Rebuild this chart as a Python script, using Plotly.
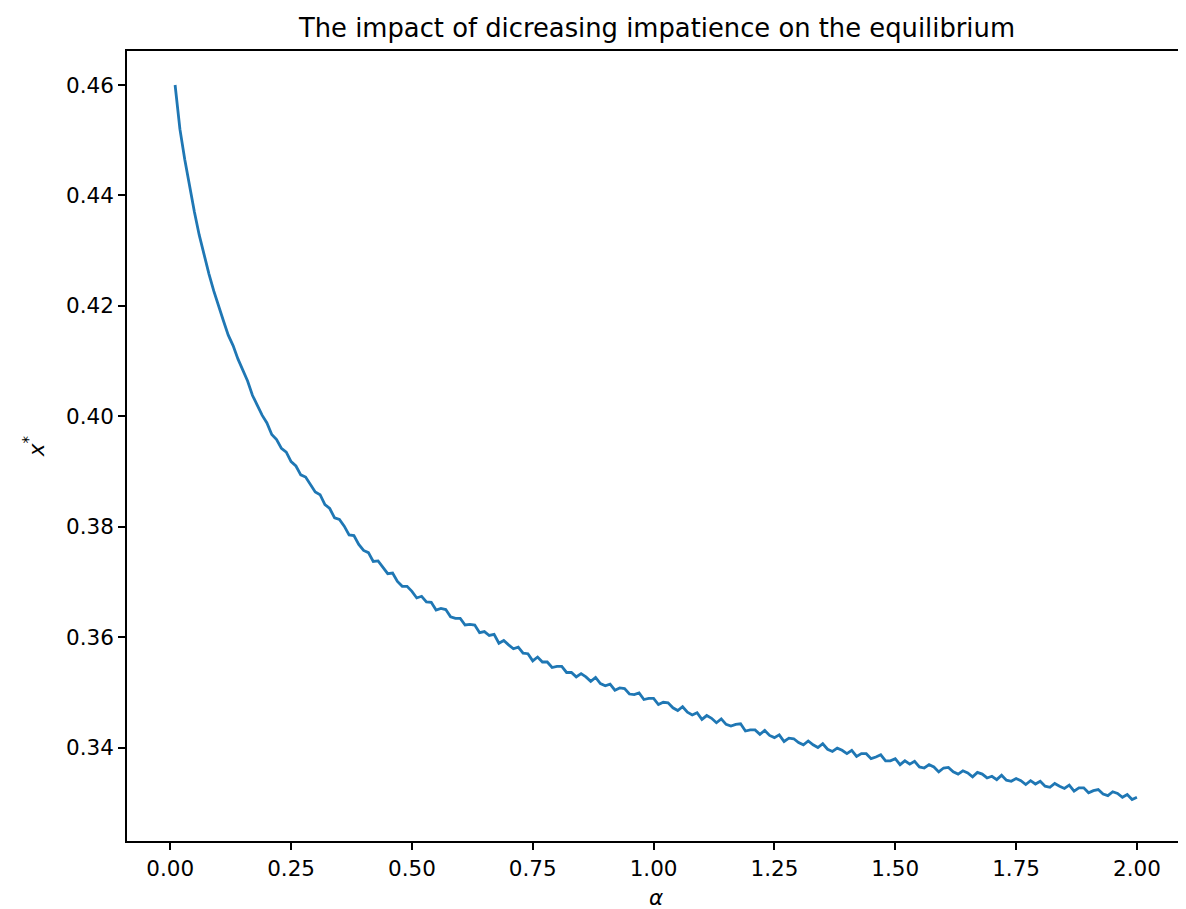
import plotly.graph_objects as go

alpha = [round(0.01 * i, 2) for i in range(1, 201)]

x_star = [
    0.4600, 0.4520, 0.4465, 0.4415, 0.4370, 0.4328, 0.4292, 0.4258, 0.4227, 0.4198,
    0.4173, 0.4147, 0.4128, 0.4104, 0.4085, 0.4064, 0.4038, 0.4021, 0.4002, 0.3988,
    0.3967, 0.3958, 0.3942, 0.3935, 0.3918, 0.3910, 0.3894, 0.3890, 0.3876, 0.3863,
    0.3858, 0.3840, 0.3833, 0.3816, 0.3813, 0.3801, 0.3785, 0.3784, 0.3768, 0.3757,
    0.3753, 0.3737, 0.3738, 0.3726, 0.3715, 0.3716, 0.3701, 0.3692, 0.3692, 0.3683,
    0.3671, 0.3674, 0.3664, 0.3663, 0.3649, 0.3652, 0.3650, 0.3637, 0.3634, 0.3634,
    0.3622, 0.3623, 0.3622, 0.3608, 0.3610, 0.3603, 0.3605, 0.3589, 0.3594, 0.3586,
    0.3579, 0.3582, 0.3571, 0.3570, 0.3557, 0.3564, 0.3555, 0.3555, 0.3545, 0.3547,
    0.3547, 0.3536, 0.3536, 0.3528, 0.3534, 0.3528, 0.3520, 0.3527, 0.3516, 0.3512,
    0.3515, 0.3504, 0.3508, 0.3507, 0.3497, 0.3496, 0.3499, 0.3487, 0.3489, 0.3489,
    0.3478, 0.3482, 0.3481, 0.3472, 0.3467, 0.3474, 0.3464, 0.3459, 0.3463, 0.3451,
    0.3458, 0.3453, 0.3445, 0.3452, 0.3442, 0.3439, 0.3442, 0.3443, 0.3430, 0.3432,
    0.3432, 0.3424, 0.3431, 0.3422, 0.3418, 0.3423, 0.3411, 0.3417, 0.3416, 0.3409,
    0.3405, 0.3412, 0.3405, 0.3400, 0.3407, 0.3397, 0.3393, 0.3399, 0.3395, 0.3389,
    0.3395, 0.3384, 0.3389, 0.3389, 0.3380, 0.3383, 0.3387, 0.3376, 0.3376, 0.3380,
    0.3369, 0.3376, 0.3370, 0.3375, 0.3365, 0.3363, 0.3369, 0.3365, 0.3356, 0.3363,
    0.3364, 0.3356, 0.3352, 0.3358, 0.3354, 0.3347, 0.3355, 0.3352, 0.3345, 0.3348,
    0.3342, 0.3350, 0.3341, 0.3339, 0.3344, 0.3340, 0.3333, 0.3340, 0.3334, 0.3339,
    0.3330, 0.3328, 0.3335, 0.3330, 0.3326, 0.3332, 0.3321, 0.3327, 0.3327, 0.3318,
    0.3322, 0.3324, 0.3316, 0.3313, 0.3320, 0.3317, 0.3310, 0.3315, 0.3306, 0.3310,
]

x_ticks = [0.0, 0.25, 0.5, 0.75, 1.0, 1.25, 1.5, 1.75, 2.0]
x_tick_text = ["0.00", "0.25", "0.50", "0.75", "1.00", "1.25", "1.50", "1.75", "2.00"]
y_ticks = [0.34, 0.36, 0.38, 0.40, 0.42, 0.44, 0.46]
y_tick_text = ["0.34", "0.36", "0.38", "0.40", "0.42", "0.44", "0.46"]

title_text = "The impact of dicreasing impatience on the equilibrium"
x_label = "<i>α</i>"
y_label = "<i>x</i><sup>*</sup>"

FONT = "DejaVu Sans"
W, H = 1186, 909
L, R, T, B = 119, 7, 43, 76

fig = go.Figure()
fig.add_trace(go.Scatter(
    x=alpha, y=x_star, mode="lines",
    line=dict(color="#1f77b4", width=2.8),
    showlegend=False, hoverinfo="skip",
))

axis_common = dict(
    showgrid=False, zeroline=False,
    showline=True, linecolor="black", linewidth=1.6, mirror=True,
    ticks="outside", ticklen=7, tickwidth=1.6, tickcolor="black",
    tickfont=dict(family=FONT, size=21.5, color="black"),
)

fig.update_layout(
    width=W, height=H,
    margin=dict(l=L, r=R, t=T, b=B, pad=0),
    paper_bgcolor="white", plot_bgcolor="white",
    font=dict(family=FONT, color="black"),
    title=dict(
        text=title_text, x=(L + (W - L - R) / 2) / W, xanchor="center",
        y=1 - 20 / H, yanchor="middle", yref="container",
        font=dict(family=FONT, size=25.8, color="black"),
    ),
    xaxis=dict(range=[-0.0895, 2.0995], tickvals=x_ticks, ticktext=x_tick_text,
               title=dict(text=x_label, standoff=10,
                          font=dict(family=FONT, size=21.5, color="black")),
               **axis_common),
    yaxis=dict(range=[0.32308, 0.46616], tickvals=y_ticks, ticktext=y_tick_text,
               title=dict(text=y_label, standoff=16,
                          font=dict(family=FONT, size=21.5, color="black")),
               **axis_common),
)

fig.write_html("out.html")
